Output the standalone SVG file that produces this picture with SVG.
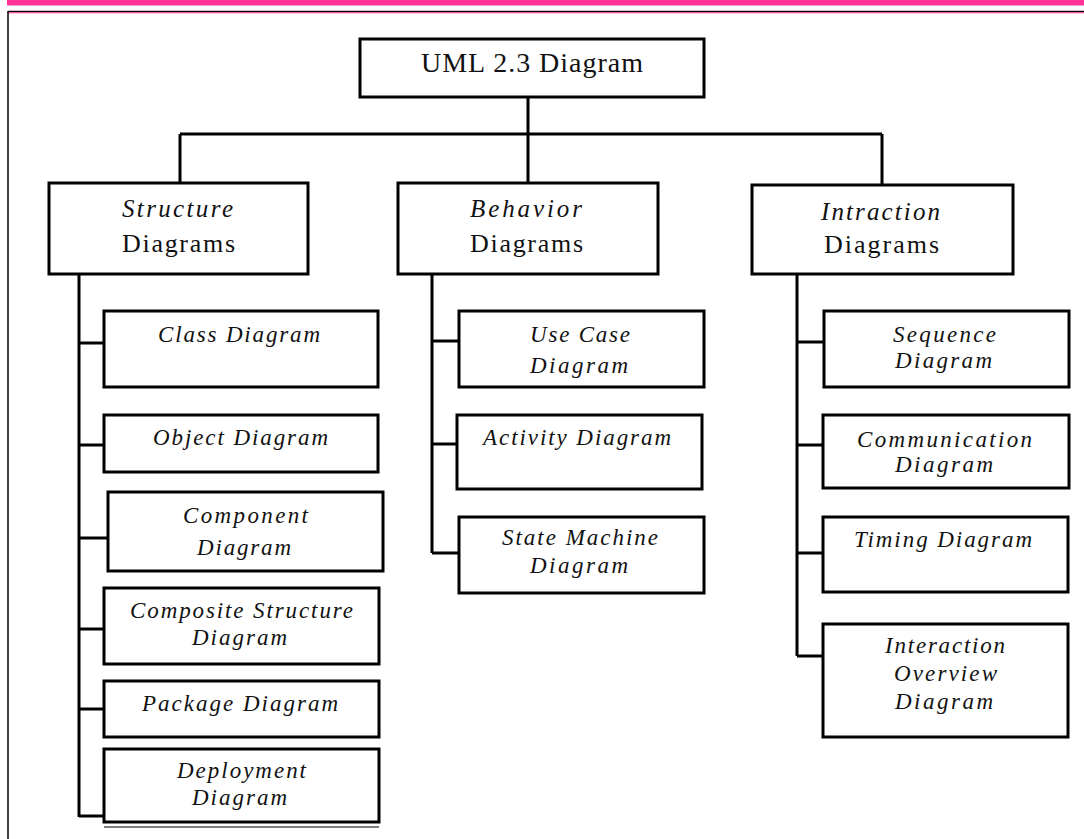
<svg xmlns="http://www.w3.org/2000/svg" width="1084" height="839" viewBox="0 0 1084 839">
<style>
.bg{fill:#ffffff}
.box{fill:#ffffff;stroke:#000000;stroke-width:3}
.con{fill:none;stroke:#000000;stroke-width:3}
.t{font-family:"Liberation Serif","Times New Roman",serif;fill:#111111}
.it{font-style:italic;font-size:23px}
.hd{font-size:26px}
.hi{font-style:italic;font-size:25px}
.root{font-size:28px}
</style>
<rect class="bg" x="0" y="0" width="1084" height="839"/>
<g id="frame">
<rect x="7" y="0" width="1077" height="5.5" fill="#ff3399"/>
<line x1="8" y1="11.5" x2="1084" y2="11.5" stroke="#000000" stroke-width="1.5"/>
<line x1="8" y1="12.8" x2="1084" y2="12.8" stroke="#ff3399" stroke-width="1"/>
<line x1="8" y1="11" x2="8" y2="839" stroke="#000000" stroke-width="1.5"/>
</g>
<g id="connectors">
<path class="con" d="M528,98 V183 M180,134 H882 M180,134 V183 M882,134 V185"/>
<path class="con" d="M79,274 V817 M79,343 H104 M79,445 H104 M79,538 H108 M79,629 H104 M79,709 H104 M79,816 H104"/>
<path class="con" d="M432,274 V553 M432,341 H459 M432,444 H457 M432,553 H459"/>
<path class="con" d="M797,274 V656 M797,342 H824 M797,445 H823 M797,553 H823 M797,656 H823"/>
</g>
<g id="root">
<rect class="box" x="360" y="39" width="344" height="58"/>
<text class="t root" x="421" y="72" textLength="222" lengthAdjust="spacing">UML 2.3 Diagram</text>
</g>
<g id="structure">
<rect class="box" x="49" y="183" width="259" height="91"/>
<text class="t hi" x="122" y="217" textLength="111" lengthAdjust="spacing">Structure</text>
<text class="t hd" x="122" y="252" textLength="113" lengthAdjust="spacing">Diagrams</text>
</g>
<g id="behavior">
<rect class="box" x="398" y="183" width="260" height="91"/>
<text class="t hi" x="470" y="217" textLength="112" lengthAdjust="spacing">Behavior</text>
<text class="t hd" x="470" y="252" textLength="113" lengthAdjust="spacing">Diagrams</text>
</g>
<g id="interaction">
<rect class="box" x="752" y="185" width="261" height="89"/>
<text class="t hi" x="821" y="220" textLength="119" lengthAdjust="spacing">Intraction</text>
<text class="t hd" x="824" y="253" textLength="115" lengthAdjust="spacing">Diagrams</text>
</g>
<g id="class">
<rect class="box" x="104" y="311" width="274" height="76"/>
<text class="t it" x="158" y="342" textLength="162" lengthAdjust="spacing">Class Diagram</text>
</g>
<g id="object">
<rect class="box" x="104" y="415" width="274" height="57"/>
<text class="t it" x="153" y="445" textLength="175" lengthAdjust="spacing">Object Diagram</text>
</g>
<g id="component">
<rect class="box" x="108" y="492" width="275" height="79"/>
<text class="t it" x="183" y="523" textLength="125" lengthAdjust="spacing">Component</text>
<text class="t it" x="197" y="555" textLength="94" lengthAdjust="spacing">Diagram</text>
</g>
<g id="composite">
<rect class="box" x="104" y="588" width="275" height="76"/>
<text class="t it" x="130" y="618" textLength="223" lengthAdjust="spacing">Composite Structure</text>
<text class="t it" x="192" y="645" textLength="95" lengthAdjust="spacing">Diagram</text>
</g>
<g id="package">
<rect class="box" x="104" y="681" width="275" height="56"/>
<text class="t it" x="142" y="711" textLength="196" lengthAdjust="spacing">Package Diagram</text>
</g>
<g id="deployment">
<rect class="box" x="104" y="749" width="275" height="73"/>
<line x1="104" y1="827" x2="379" y2="827" stroke="#000000" stroke-width="1.2"/>
<text class="t it" x="177" y="778" textLength="129" lengthAdjust="spacing">Deployment</text>
<text class="t it" x="192" y="805" textLength="95" lengthAdjust="spacing">Diagram</text>
</g>
<g id="usecase">
<rect class="box" x="459" y="311" width="245" height="76"/>
<text class="t it" x="530" y="342" textLength="100" lengthAdjust="spacing">Use Case</text>
<text class="t it" x="530" y="373" textLength="98" lengthAdjust="spacing">Diagram</text>
</g>
<g id="activity">
<rect class="box" x="457" y="415" width="245" height="74"/>
<text class="t it" x="483" y="445" textLength="188" lengthAdjust="spacing">Activity Diagram</text>
</g>
<g id="statemachine">
<rect class="box" x="459" y="517" width="245" height="76"/>
<text class="t it" x="502" y="545" textLength="156" lengthAdjust="spacing">State Machine</text>
<text class="t it" x="530" y="573" textLength="98" lengthAdjust="spacing">Diagram</text>
</g>
<g id="sequence">
<rect class="box" x="824" y="311" width="245" height="76"/>
<text class="t it" x="893" y="342" textLength="103" lengthAdjust="spacing">Sequence</text>
<text class="t it" x="895" y="368" textLength="97" lengthAdjust="spacing">Diagram</text>
</g>
<g id="communication">
<rect class="box" x="823" y="415" width="246" height="73"/>
<text class="t it" x="857" y="447" textLength="175" lengthAdjust="spacing">Communication</text>
<text class="t it" x="895" y="472" textLength="98" lengthAdjust="spacing">Diagram</text>
</g>
<g id="timing">
<rect class="box" x="823" y="517" width="245" height="75"/>
<text class="t it" x="854" y="547" textLength="178" lengthAdjust="spacing">Timing Diagram</text>
</g>
<g id="overview">
<rect class="box" x="823" y="624" width="245" height="113"/>
<text class="t it" x="885" y="653" textLength="120" lengthAdjust="spacing">Interaction</text>
<text class="t it" x="894" y="681" textLength="103" lengthAdjust="spacing">Overview</text>
<text class="t it" x="895" y="709" textLength="98" lengthAdjust="spacing">Diagram</text>
</g>
</svg>
